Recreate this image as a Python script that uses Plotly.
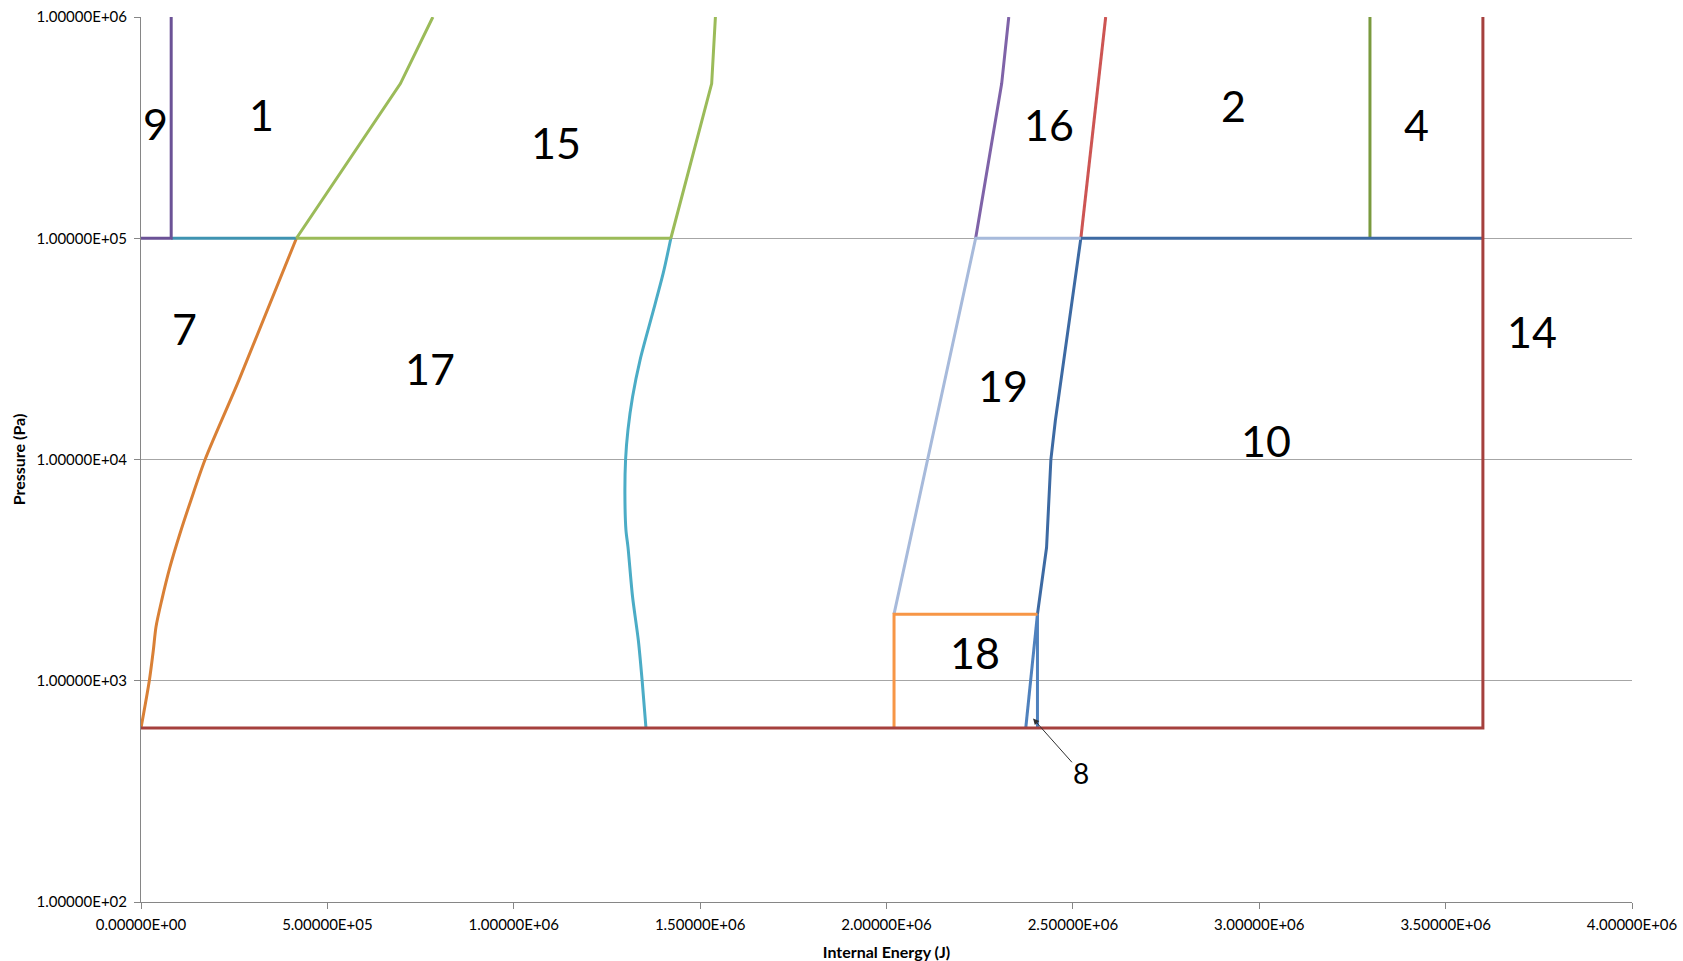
import math
import plotly.graph_objects as go

P_TRIPLE = 611.657  # Pa

# ---- phase-region boundaries: internal energy (J) vs pressure (Pa) ----
# outer boundary of region 14
e_14 = [0, 3.6e6, 3.6e6]
p_14 = [P_TRIPLE, P_TRIPLE, 1e6]

# region 9 boundary
e_9 = [0, 8.1e4, 8.1e4]
p_9 = [1e5, 1e5, 1e6]

# base of region 1
e_1 = [8.1e4, 4.17e5]
p_1 = [1e5, 1e5]

# region 15 boundaries (left edge, base, right edge)
e_15_left = [4.17e5, 6.96e5, 7.83e5]
p_15_left = [1e5, 5e5, 1e6]
e_15_base = [4.17e5, 1.4215e6]
p_15_base = [1e5, 1e5]
e_15_right = [1.4215e6, 1.531e6, 1.541e6]
p_15_right = [1e5, 5e5, 1e6]

# region 7 / 17 boundary
e_7 = [4.17e5, 2.63e5, 1.72e5, 1.34e5, 1.046e5, 7.78e4, 5.55e4, 4.02e4,
       3.3e4, 2.23e4, 0]
p_7 = [1e5, 2.29e4, 1e4, 6.55e3, 4.63e3, 3.27e3, 2.31e3, 1.75e3,
       1.37e3, 1e3, P_TRIPLE]

# region 17 right boundary
e_17 = [1.4215e6, 1.401e6, 1.370e6, 1.339e6, 1.3188e6, 1.3064e6, 1.300e6,
        1.2982e6, 1.3010e6, 1.3064e6, 1.3188e6, 1.3343e6, 1.3445e6, 1.3547e6]
p_17 = [1e5, 6.95e4, 4.42e4, 2.82e4, 1.92e4, 1.36e4, 1e4,
        7.0e3, 4.8e3, 4.03e3, 2.39e3, 1.52e3, 1e3, P_TRIPLE]

# region 19 boundary
e_19 = [2.0202e6, 2.2392e6, 2.5214e6]
p_19 = [2000, 1e5, 1e5]

# region 16 edges
e_16_left = [2.2392e6, 2.309e6, 2.328e6]
p_16_left = [1e5, 5e5, 1e6]
e_16_right = [2.5214e6, 2.588e6]
p_16_right = [1e5, 1e6]

# region 10 boundary
e_10 = [2.405e6, 2.4294e6, 2.441e6, 2.453e6, 2.5214e6, 3.6e6]
p_10 = [2000, 4e3, 1e4, 1.5e4, 1e5, 1e5]

# region 8 (thin wedge)
e_8 = [2.405e6, 2.405e6, None, 2.405e6, 2.3736e6]
p_8 = [2000, P_TRIPLE, None, 2000, P_TRIPLE]

# region 18 box
e_18 = [2.0202e6, 2.0202e6, 2.405e6]
p_18 = [P_TRIPLE, 2000, 2000]

# region 4 left edge
e_4 = [3.297e6, 3.297e6]
p_4 = [1e5, 1e6]

# region labels
label_text = ["9", "1", "15", "16", "2", "4", "7", "17", "19", "10", "14", "18"]
label_e = [3.9e4, 3.24e5, 1.113e6, 2.437e6, 2.932e6, 3.422e6,
           1.17e5, 7.76e5, 2.313e6, 3.019e6, 3.733e6, 2.238e6]
label_p = [3.31e5, 3.62e5, 2.71e5, 3.27e5, 4.0e5, 3.27e5,
           3.91e4, 2.59e4, 2.16e4, 1.22e4, 3.78e4, 1.34e3]

# label 8 with pointer
label8_text = "8"
label8_e, label8_p = 2.523e6, 383
arrow8_e, arrow8_p = 2.3932e6, 674.5

# axis ticks
x_tickvals = [0, 5e5, 1e6, 1.5e6, 2e6, 2.5e6, 3e6, 3.5e6, 4e6]
x_ticktext = ["0.00000E+00", "5.00000E+05", "1.00000E+06", "1.50000E+06",
              "2.00000E+06", "2.50000E+06", "3.00000E+06", "3.50000E+06",
              "4.00000E+06"]
y_tickvals = [1e2, 1e3, 1e4, 1e5, 1e6]
y_ticktext = ["1.00000E+02", "1.00000E+03", "1.00000E+04", "1.00000E+05",
              "1.00000E+06"]

# (energy, pressure, colour, smoothed)
series = [
    (e_17, p_17, "#4BACC6", True),
    (e_7, p_7, "#D98036", True),
    (e_1, p_1, "#3F93B1", False),
    (e_15_base, p_15_base, "#9BBB59", False),
    (e_15_left, p_15_left, "#9BBB59", False),
    (e_15_right, p_15_right, "#9BBB59", False),
    (e_9, p_9, "#6B5296", False),
    (e_16_left, p_16_left, "#7F63A8", False),
    (e_16_right, p_16_right, "#CD5553", False),
    (e_4, p_4, "#7A9A3E", False),
    (e_10, p_10, "#3D6AA3", False),
    (e_19, p_19, "#A7BADB", False),
    (e_8, p_8, "#4F81BD", False),
    (e_18, p_18, "#F79646", False),
    (e_14, p_14, "#A5403D", False),
]

fig = go.Figure()
for ex, py, col, smooth in series:
    line = dict(color=col, width=3)
    if smooth:
        line.update(shape="spline", smoothing=0.8)
    fig.add_trace(go.Scatter(x=ex, y=py, mode="lines", line=line,
                             connectgaps=False, showlegend=False,
                             hoverinfo="skip"))

LABEL_FONT = "Lato, 'Open Sans', sans-serif"
annotations = []
for t, ex, py in zip(label_text, label_e, label_p):
    annotations.append(dict(x=ex, y=math.log10(py), xref="x", yref="y",
                            text=t, showarrow=False,
                            font=dict(family=LABEL_FONT, size=43, color="#000000")))
annotations.append(dict(x=arrow8_e, y=math.log10(arrow8_p), xref="x", yref="y",
                        ax=label8_e, ay=math.log10(label8_p), axref="x", ayref="y",
                        text=label8_text, showarrow=True, arrowhead=2,
                        arrowsize=1.2, arrowwidth=1, arrowcolor="#303030",
                        font=dict(family=LABEL_FONT, size=28, color="#000000")))

fig.update_layout(
    width=1683, height=961,
    margin=dict(l=141, r=51, t=17, b=59, autoexpand=False),
    paper_bgcolor="white", plot_bgcolor="white",
    font=dict(family=LABEL_FONT, color="#000000"),
    annotations=annotations,
    xaxis=dict(
        range=[0, 4e6], tickvals=x_tickvals, ticktext=x_ticktext,
        showgrid=False, zeroline=False, showline=True, linecolor="#868686",
        linewidth=1, ticks="outside", ticklen=6, tickcolor="#868686",
        ticklabelstandoff=3,
        tickfont=dict(size=15, family=LABEL_FONT), automargin=False,
        title=dict(text="<b>Internal Energy (J)</b>", standoff=14,
                   font=dict(size=16, family=LABEL_FONT)),
    ),
    yaxis=dict(
        type="log", range=[2, 6], tickvals=y_tickvals, ticktext=y_ticktext,
        showgrid=True, gridcolor="#A6A6A6", gridwidth=1, zeroline=False,
        showline=True, linecolor="#868686", linewidth=1, ticks="outside",
        ticklen=6, tickcolor="#868686", ticklabelstandoff=4,
        tickfont=dict(size=15, family=LABEL_FONT), automargin=False,
        title=dict(text="<b>Pressure (Pa)</b>", standoff=6,
                   font=dict(size=16, family=LABEL_FONT)),
    ),
)

fig.write_html("out.html")
